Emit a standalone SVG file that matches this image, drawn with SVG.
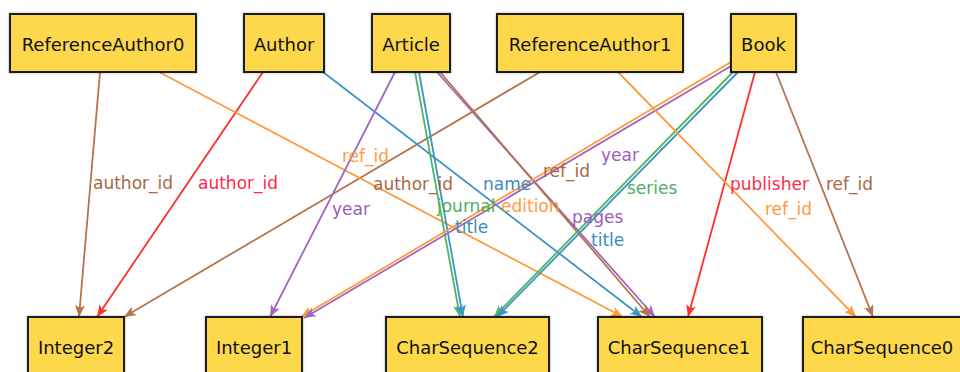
<svg xmlns="http://www.w3.org/2000/svg" width="960" height="372" viewBox="0 0 960 372">
  <style>
    .box { fill: #fdd84b; stroke: #1e1e1e; stroke-width: 2; filter: url(#soft); }
    .name { font-family: "DejaVu Sans", Verdana, sans-serif; font-size: 18px; fill: #111; text-anchor: middle; }
    .edge { fill: none; stroke-width: 1.8; }
    .lbl { font-family: "DejaVu Sans", Verdana, sans-serif; font-size: 17px; }
    .brown { stroke: #b5744a; } .brownT { fill: #a8683f; }
    .red { stroke: #ff2e2e; } .redT { fill: #ff2a4a; }
    .orange { stroke: #ff9a3c; } .orangeT { fill: #ff9a40; }
    .blue { stroke: #3d94c6; } .blueT { fill: #3a8cc0; }
    .purple { stroke: #a066c0; } .purpleT { fill: #9c5cb8; }
    .green { stroke: #4db661; } .greenT { fill: #4fb060; }
  </style>
  <defs>
    <filter id="soft" x="-10%" y="-20%" width="120%" height="140%">
      <feDropShadow dx="0" dy="0" stdDeviation="1.2" flood-color="#000" flood-opacity="0.35"/>
    </filter>
    <marker id="ah-brown" viewBox="0 0 12 10" refX="12" refY="5" markerWidth="12" markerHeight="10" markerUnits="userSpaceOnUse" orient="auto"><path d="M0,0 L12,5 L0,10 L3,5 z" fill="#b5744a"/></marker>
    <marker id="ah-red" viewBox="0 0 12 10" refX="12" refY="5" markerWidth="12" markerHeight="10" markerUnits="userSpaceOnUse" orient="auto"><path d="M0,0 L12,5 L0,10 L3,5 z" fill="#ff2e2e"/></marker>
    <marker id="ah-orange" viewBox="0 0 12 10" refX="12" refY="5" markerWidth="12" markerHeight="10" markerUnits="userSpaceOnUse" orient="auto"><path d="M0,0 L12,5 L0,10 L3,5 z" fill="#ff9a3c"/></marker>
    <marker id="ah-blue" viewBox="0 0 12 10" refX="12" refY="5" markerWidth="12" markerHeight="10" markerUnits="userSpaceOnUse" orient="auto"><path d="M0,0 L12,5 L0,10 L3,5 z" fill="#3d94c6"/></marker>
    <marker id="ah-purple" viewBox="0 0 12 10" refX="12" refY="5" markerWidth="12" markerHeight="10" markerUnits="userSpaceOnUse" orient="auto"><path d="M0,0 L12,5 L0,10 L3,5 z" fill="#a066c0"/></marker>
    <marker id="ah-green" viewBox="0 0 12 10" refX="12" refY="5" markerWidth="12" markerHeight="10" markerUnits="userSpaceOnUse" orient="auto"><path d="M0,0 L12,5 L0,10 L3,5 z" fill="#4db661"/></marker>
  </defs>
  <rect width="960" height="372" fill="#fff"/>

  <!-- connectors -->
  <g id="edges">
    <path class="edge brown" d="M100,72 L79,317" marker-end="url(#ah-brown)"/>
    <path class="edge red" d="M263,72 L97,317" marker-end="url(#ah-red)"/>
    <path class="edge brown" d="M540,72 L124,317" marker-end="url(#ah-brown)"/>
    <path class="edge orange" d="M159,72 L623,317" marker-end="url(#ah-orange)"/>
    <path class="edge blue" d="M323,72 L642,317" marker-end="url(#ah-blue)"/>
    <path class="edge purple" d="M395,72 L270,317" marker-end="url(#ah-purple)"/>
    <path class="edge green" d="M415,72 L460,317" marker-end="url(#ah-green)"/>
    <path class="edge blue" d="M419,72 L463,317" marker-end="url(#ah-blue)"/>
    <path class="edge purple" d="M437,72 L655,317" marker-end="url(#ah-purple)"/>
    <path class="edge brown" d="M440,72 L650,317" marker-end="url(#ah-brown)"/>
    <path class="edge orange" d="M731,62 L301,317" marker-end="url(#ah-orange)"/>
    <path class="edge purple" d="M731,66 L304,318" marker-end="url(#ah-purple)"/>
    <path class="edge green" d="M733,72 L494,317" marker-end="url(#ah-green)"/>
    <path class="edge blue" d="M738,72 L497,317" marker-end="url(#ah-blue)"/>
    <path class="edge red" d="M755,72 L688,317" marker-end="url(#ah-red)"/>
    <path class="edge brown" d="M776,72 L873,317" marker-end="url(#ah-brown)"/>
    <path class="edge orange" d="M618,72 L856,317" marker-end="url(#ah-orange)"/>

    <text class="lbl brownT" x="93" y="189">author_id</text>
    <text class="lbl redT" x="198" y="189">author_id</text>
    <text class="lbl orangeT" x="342" y="162">ref_id</text>
    <text class="lbl brownT" x="373" y="190">author_id</text>
    <text class="lbl purpleT" x="332" y="215">year</text>
    <text class="lbl blueT" x="483" y="190">name</text>
    <text class="lbl brownT" x="543" y="177">ref_id</text>
    <text class="lbl purpleT" x="601" y="161">year</text>
    <text class="lbl greenT" x="437" y="212">journal</text>
    <text class="lbl orangeT" x="501" y="212">edition</text>
    <text class="lbl blueT" x="455" y="233">title</text>
    <text class="lbl purpleT" x="572" y="223">pages</text>
    <text class="lbl blueT" x="591" y="246">title</text>
    <text class="lbl greenT" x="627" y="194">series</text>
    <text class="lbl redT" x="730" y="190">publisher</text>
    <text class="lbl brownT" x="826" y="190">ref_id</text>
    <text class="lbl orangeT" x="765" y="215">ref_id</text>
  </g>

  <!-- top row -->
  <g id="ReferenceAuthor0"><rect class="box" x="10" y="14" width="186" height="58"/><text class="name" x="103" y="51">ReferenceAuthor0</text></g>
  <g id="Author"><rect class="box" x="244" y="14" width="80" height="58"/><text class="name" x="284" y="51">Author</text></g>
  <g id="Article"><rect class="box" x="372" y="14" width="78" height="58"/><text class="name" x="411" y="51">Article</text></g>
  <g id="ReferenceAuthor1"><rect class="box" x="497" y="14" width="186" height="58"/><text class="name" x="590" y="51">ReferenceAuthor1</text></g>
  <g id="Book"><rect class="box" x="731" y="14" width="65" height="58"/><text class="name" x="763.5" y="51">Book</text></g>

  <!-- bottom row -->
  <g id="Integer2"><rect class="box" x="28" y="317" width="96" height="58"/><text class="name" x="76" y="354">Integer2</text></g>
  <g id="Integer1"><rect class="box" x="206" y="317" width="96" height="58"/><text class="name" x="254" y="354">Integer1</text></g>
  <g id="CharSequence2"><rect class="box" x="386" y="317" width="163" height="58"/><text class="name" x="467.5" y="354">CharSequence2</text></g>
  <g id="CharSequence1"><rect class="box" x="598" y="317" width="164" height="58"/><text class="name" x="679" y="354">CharSequence1</text></g>
  <g id="CharSequence0"><rect class="box" x="803" y="317" width="160" height="58"/><text class="name" x="882" y="354">CharSequence0</text></g>
</svg>
